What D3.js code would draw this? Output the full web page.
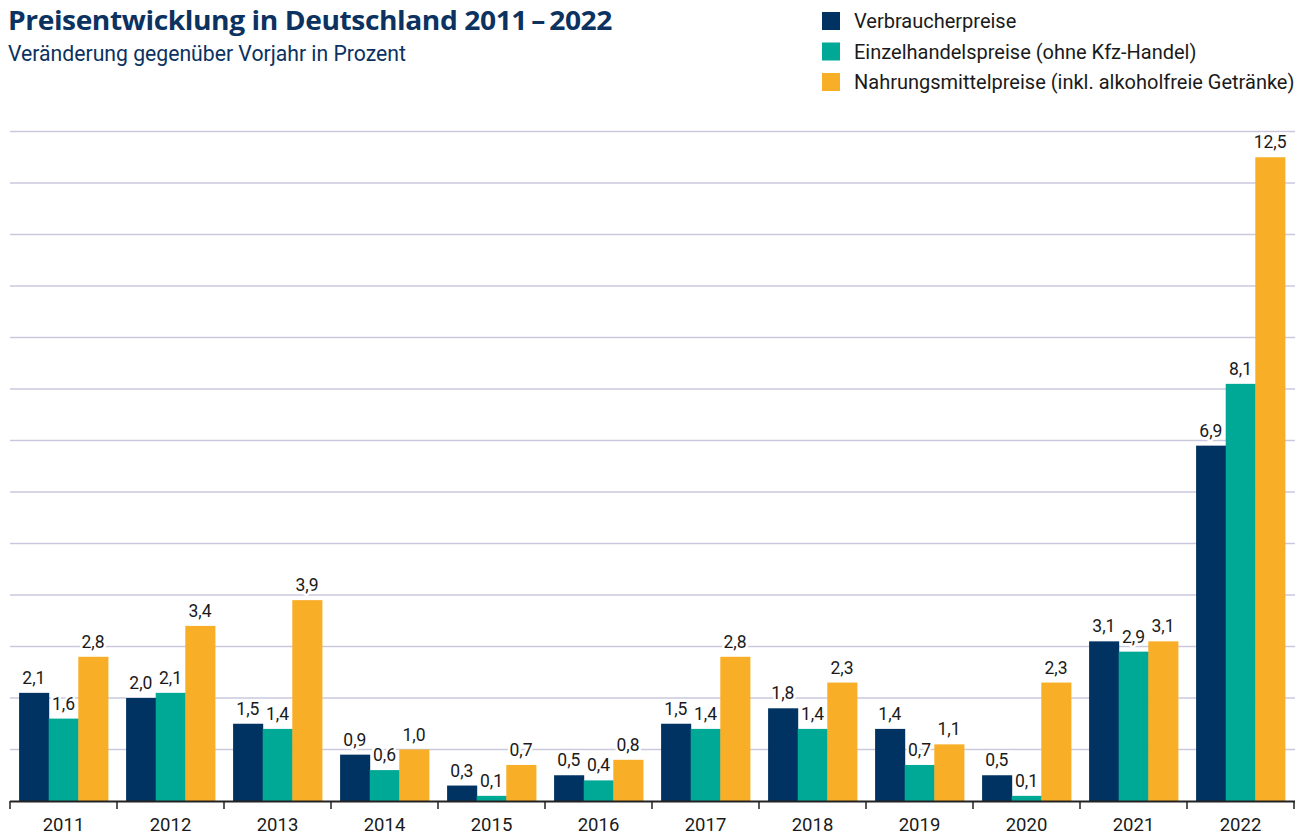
<!DOCTYPE html>
<html>
<head>
<meta charset="utf-8">
<script src="https://cdn.jsdelivr.net/npm/d3@7"></script>
<style>
  body { margin: 0; background: #fff; }
  svg text { font-family: Roboto, "Noto Sans", sans-serif; }
</style>
</head>
<body>
<div id="chart"></div>
<script>
// data
var years = ["2011", "2012", "2013", "2014", "2015", "2016", "2017", "2018", "2019", "2020", "2021", "2022"];
var seriesNames = ["Verbraucherpreise", "Einzelhandelspreise (ohne Kfz-Handel)", "Nahrungsmittelpreise (inkl. alkoholfreie Getränke)"];
var verbraucher = [2.1, 2.0, 1.5, 0.9, 0.3, 0.5, 1.5, 1.8, 1.4, 0.5, 3.1, 6.9];
var einzelhandel = [1.6, 2.1, 1.4, 0.6, 0.1, 0.4, 1.4, 1.4, 0.7, 0.1, 2.9, 8.1];
var nahrung = [2.8, 3.4, 3.9, 1.0, 0.7, 0.8, 2.8, 2.3, 1.1, 2.3, 3.1, 12.5];
var colors = ["#003361", "#00a896", "#f9ae27"];

var W = 1304, H = 836;
var left = 10, right = 1294, baseY = 801, topY = 131.5;

var svg = d3.select("#chart")
  .append("svg")
  .attr("width", W)
  .attr("height", H);

// title and subtitle
svg.append("text")
  .attr("x", 8).attr("y", 30)
  .style("font-family", "'Open Sans', 'Noto Sans', sans-serif")
  .style("font-weight", 700)
  .style("font-size", "27.5px")
  .style("letter-spacing", "-0.4px")
  .attr("textLength", 604)
  .attr("lengthAdjust", "spacingAndGlyphs")
  .attr("fill", "#0b3260")
  .text("Preisentwicklung in Deutschland 2011\u2009\u2013\u20092022");

svg.append("text")
  .attr("x", 8).attr("y", 61)
  .style("font-size", "21.2px")
  .attr("fill", "#0b3260")
  .text("Veränderung gegenüber Vorjahr in Prozent");

// legend
var legend = svg.append("g").attr("transform", "translate(822, 12)");
seriesNames.forEach(function(name, i) {
  legend.append("rect")
    .attr("x", 0).attr("y", i * 30.5)
    .attr("width", 18).attr("height", 18)
    .attr("fill", colors[i]);
  legend.append("text")
    .attr("x", 32).attr("y", i * 30.5 + 16)
    .style("font-size", "20px")
    .attr("fill", "#1a1a1a")
    .text(name);
});

// scales
var x = d3.scaleBand()
  .domain(years)
  .range([left, right])
  .paddingInner(0.17)
  .paddingOuter(0.085);

var y = d3.scaleLinear()
  .domain([0, 13])
  .range([baseY, topY]);

var x1 = d3.scaleBand()
  .domain([0, 1, 2])
  .range([0, x.bandwidth()]);

// gridlines
svg.append("g")
  .selectAll("line")
  .data(d3.range(1, 14))
  .enter()
  .append("line")
  .attr("x1", left).attr("x2", right + 1)
  .attr("y1", d => y(d)).attr("y2", d => y(d))
  .attr("stroke", "#c9c9de")
  .attr("stroke-width", 1.3);

var rows = years.map(function(yr, i) {
  return { year: yr, vals: [verbraucher[i], einzelhandel[i], nahrung[i]] };
});

var groups = svg.selectAll("g.year")
  .data(rows)
  .enter()
  .append("g")
  .attr("class", "year")
  .attr("transform", d => "translate(" + x(d.year) + ",0)");

groups.selectAll("rect")
  .data(d => d.vals)
  .enter()
  .append("rect")
  .attr("x", (d, i) => x1(i))
  .attr("width", x1.bandwidth() + 0.5)
  .attr("y", d => y(d))
  .attr("height", d => baseY - y(d))
  .attr("fill", (d, i) => colors[i]);

var fmt = d => d3.format(".1f")(d).replace(".", ",");

groups.selectAll("text.val")
  .data(d => d.vals)
  .enter()
  .append("text")
  .attr("class", "val")
  .attr("x", (d, i) => x1(i) + x1.bandwidth() / 2)
  .attr("y", d => y(d) - 9)
  .attr("text-anchor", "middle")
  .style("font-size", "17.5px")
  .attr("fill", "#1a1a1a")
  .attr("stroke", "#fff")
  .attr("stroke-width", 5)
  .attr("paint-order", "stroke")
  .text(fmt);

// x axis
var xAxis = svg.append("g")
  .attr("transform", "translate(0," + baseY + ")");

xAxis.append("line")
  .attr("x1", left).attr("x2", right + 1)
  .attr("y1", 0.5).attr("y2", 0.5)
  .attr("stroke", "#222")
  .attr("stroke-width", 2);

var boundaries = d3.range(0, years.length + 1).map(i => left + i * (right - left) / years.length);
xAxis.selectAll("line.tick")
  .data(boundaries)
  .enter()
  .append("line")
  .attr("class", "tick")
  .attr("x1", d => d).attr("x2", d => d)
  .attr("y1", 0).attr("y2", 8)
  .attr("stroke", "#222")
  .attr("stroke-width", 1.5);

xAxis.selectAll("text")
  .data(years)
  .enter()
  .append("text")
  .attr("x", d => x(d) + x.bandwidth() / 2)
  .attr("y", 30)
  .attr("text-anchor", "middle")
  .style("font-size", "18.5px")
  .attr("fill", "#1a1a1a")
  .text(d => d);
</script>
</body>
</html>
